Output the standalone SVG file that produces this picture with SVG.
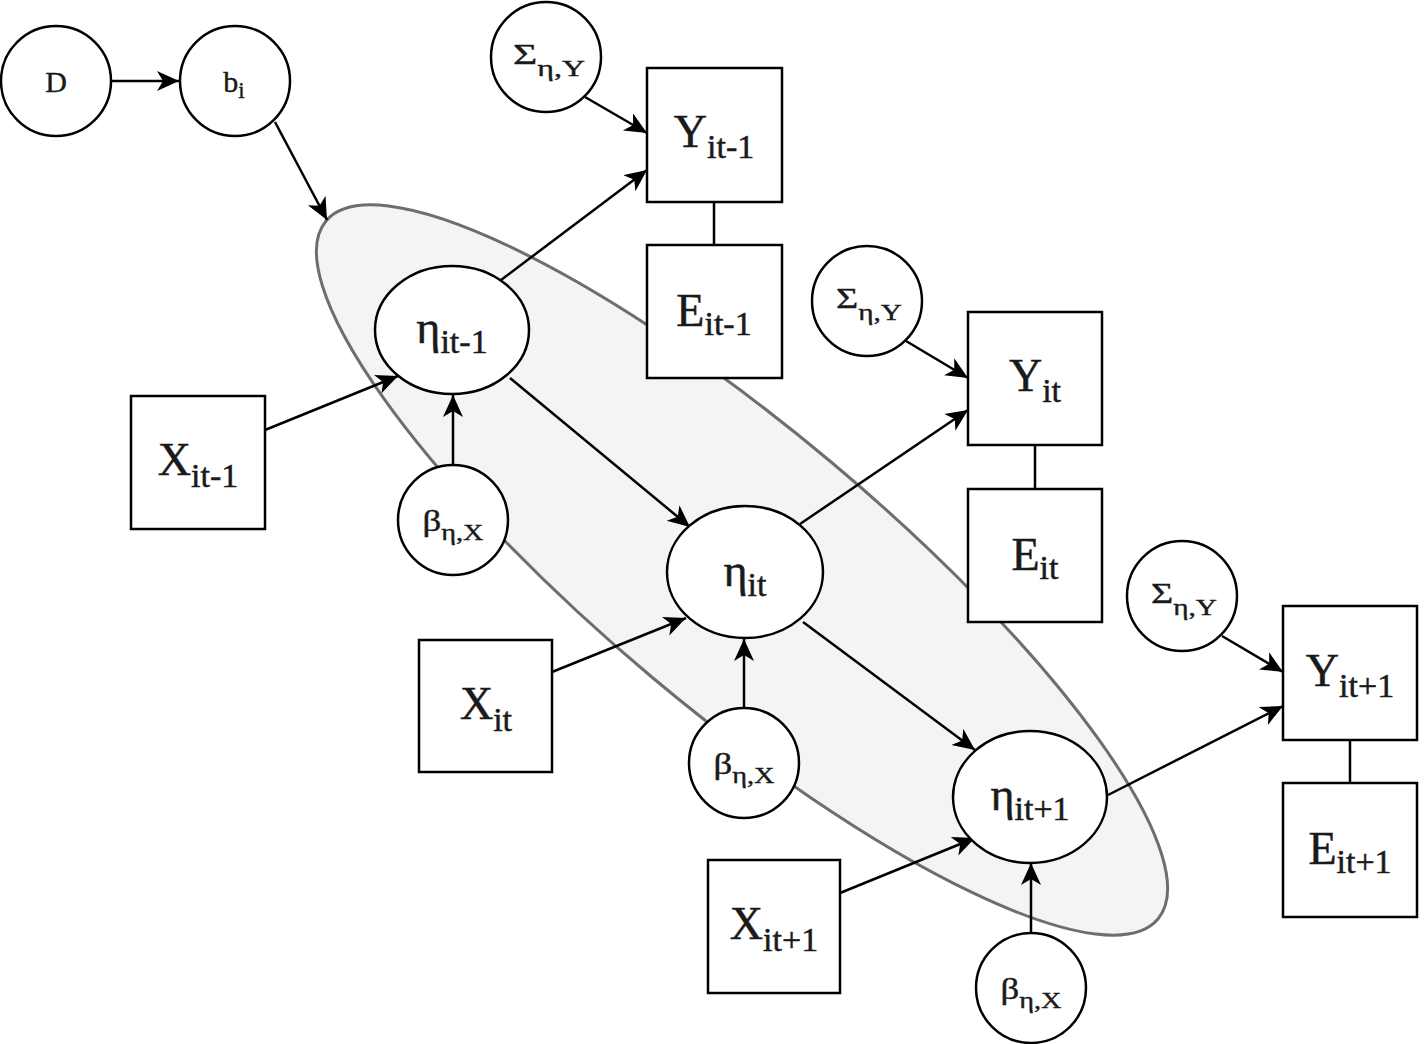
<svg xmlns="http://www.w3.org/2000/svg" width="1424" height="1044" viewBox="0 0 1424 1044">
<defs>
<marker id="arr" markerUnits="userSpaceOnUse" markerWidth="24" markerHeight="22" refX="22" refY="10" orient="auto">
<path d="M0,0 L22,10 L0,20 L6,10 z" fill="#000"/>
</marker>
<style>
.n { fill:#fff; stroke:#000; stroke-width:2.5; }
.c line { stroke:#000; stroke-width:2.5; }
.c line.a { marker-end:url(#arr); }
text { font-family:"Liberation Serif","Times New Roman",serif; fill:#1a1a1a; stroke:#1a1a1a; stroke-width:0.5; text-anchor:middle; }
.big { font-size:46px; }
.sub { font-size:34px; }
.sm { font-size:30px; stroke-width:0.4; }
.ssub { font-size:23px; }
</style>
</defs>
<rect width="1424" height="1044" fill="#fff"/>
<g id="cluster">
<ellipse cx="742" cy="570" rx="543" ry="140" transform="rotate(40 742 570)" fill="#f4f4f4" stroke="#6e6e6e" stroke-width="3"/>
</g>
<g class="c" id="connectors">
<line class="a" x1="112" y1="81" x2="179" y2="81"/>
<line class="a" x1="275" y1="122" x2="327" y2="220"/>
<line class="a" x1="585" y1="97" x2="647" y2="133"/>
<line class="a" x1="501" y1="280" x2="647" y2="170"/>
<line x1="714" y1="202" x2="714" y2="245"/>
<line class="a" x1="906" y1="341" x2="968" y2="378"/>
<line class="a" x1="800" y1="524" x2="968" y2="410"/>
<line x1="1035" y1="445" x2="1035" y2="489"/>
<line class="a" x1="1222" y1="636" x2="1283" y2="672"/>
<line class="a" x1="1108" y1="795" x2="1283" y2="706"/>
<line x1="1350" y1="740" x2="1350" y2="783"/>
<line class="a" x1="265" y1="430" x2="398" y2="376"/>
<line class="a" x1="453" y1="464" x2="453" y2="395"/>
<line class="a" x1="510" y1="378" x2="690" y2="527"/>
<line class="a" x1="552" y1="672" x2="686" y2="618"/>
<line class="a" x1="744" y1="707" x2="744" y2="639"/>
<line class="a" x1="803" y1="622" x2="975" y2="750"/>
<line class="a" x1="840" y1="893" x2="975" y2="838"/>
<line class="a" x1="1031" y1="932" x2="1031" y2="863"/>
</g>
<g id="D"><circle class="n" cx="56" cy="81" r="55"/><text x="56" y="92" class="sm">D</text></g>
<g id="b_i"><circle class="n" cx="235" cy="81" r="55"/><text x="234" y="92" class="sm">b<tspan class="ssub" dy="6">i</tspan></text></g>
<g id="Sigma1"><circle class="n" cx="546" cy="57" r="55"/><text x="549" y="64" class="sm" textLength="72" lengthAdjust="spacingAndGlyphs">Σ<tspan class="ssub" dy="12">η,Y</tspan></text></g>
<g id="Y_it-1"><rect class="n" x="647" y="68" width="135" height="134"/><text x="714" y="147" class="big">Y<tspan class="sub" dy="11">it-1</tspan></text></g>
<g id="E_it-1"><rect class="n" x="647" y="245" width="135" height="133"/><text x="714" y="326" class="big">E<tspan class="sub" dy="9">it-1</tspan></text></g>
<g id="eta_it-1"><ellipse class="n" cx="452" cy="330" rx="77" ry="64"/><text x="452" y="343" class="big">η<tspan class="sub" dy="10">it-1</tspan></text></g>
<g id="X_it-1"><rect class="n" x="131" y="396" width="134" height="133"/><text x="198" y="475" class="big">X<tspan class="sub" dy="12">it-1</tspan></text></g>
<g id="beta1"><circle class="n" cx="453" cy="520" r="55"/><text x="453" y="531" class="sm" textLength="61" lengthAdjust="spacingAndGlyphs">β<tspan class="ssub" dy="9">η,X</tspan></text></g>
<g id="Sigma2"><circle class="n" cx="867" cy="301" r="55"/><text x="869" y="308" class="sm" textLength="66" lengthAdjust="spacingAndGlyphs">Σ<tspan class="ssub" dy="12">η,Y</tspan></text></g>
<g id="Y_it"><rect class="n" x="968" y="312" width="134" height="133"/><text x="1035" y="391" class="big">Y<tspan class="sub" dy="11">it</tspan></text></g>
<g id="E_it"><rect class="n" x="968" y="489" width="134" height="133"/><text x="1035" y="570" class="big">E<tspan class="sub" dy="9">it</tspan></text></g>
<g id="eta_it"><ellipse class="n" cx="745" cy="572" rx="78" ry="66"/><text x="745" y="586" class="big">η<tspan class="sub" dy="10">it</tspan></text></g>
<g id="X_it"><rect class="n" x="419" y="640" width="133" height="132"/><text x="486" y="719" class="big">X<tspan class="sub" dy="12">it</tspan></text></g>
<g id="beta2"><circle class="n" cx="744" cy="763" r="55"/><text x="744" y="774" class="sm" textLength="61" lengthAdjust="spacingAndGlyphs">β<tspan class="ssub" dy="9">η,X</tspan></text></g>
<g id="Sigma3"><circle class="n" cx="1182" cy="596" r="55"/><text x="1184" y="603" class="sm" textLength="66" lengthAdjust="spacingAndGlyphs">Σ<tspan class="ssub" dy="12">η,Y</tspan></text></g>
<g id="Y_it+1"><rect class="n" x="1283" y="606" width="134" height="134"/><text x="1350" y="686" class="big">Y<tspan class="sub" dy="11">it+1</tspan></text></g>
<g id="E_it+1"><rect class="n" x="1283" y="783" width="134" height="134"/><text x="1350" y="864" class="big">E<tspan class="sub" dy="9">it+1</tspan></text></g>
<g id="eta_it+1"><ellipse class="n" cx="1030" cy="797" rx="77" ry="66"/><text x="1030" y="810" class="big">η<tspan class="sub" dy="10">it+1</tspan></text></g>
<g id="X_it+1"><rect class="n" x="708" y="860" width="132" height="133"/><text x="774" y="939" class="big">X<tspan class="sub" dy="12">it+1</tspan></text></g>
<g id="beta3"><circle class="n" cx="1031" cy="988" r="55"/><text x="1031" y="999" class="sm" textLength="61" lengthAdjust="spacingAndGlyphs">β<tspan class="ssub" dy="9">η,X</tspan></text></g>
</svg>
